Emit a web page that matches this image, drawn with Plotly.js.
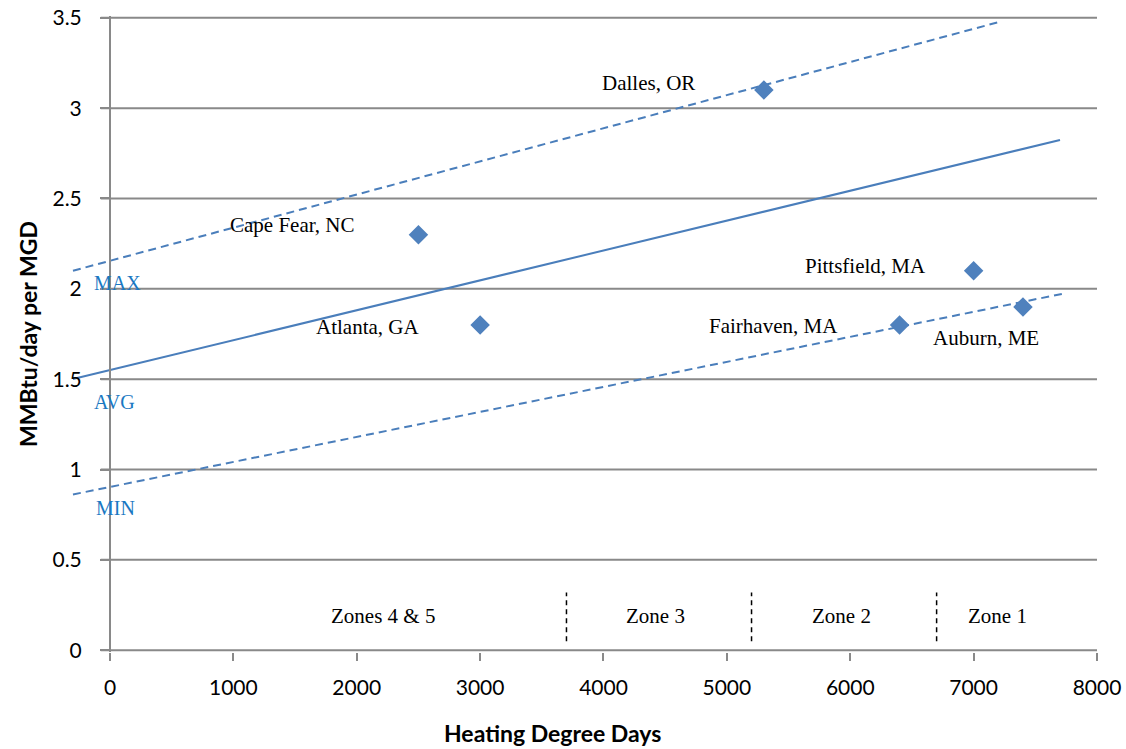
<!DOCTYPE html>
<html>
<head>
<meta charset="utf-8">
<script src="https://cdn.plot.ly/plotly-3.0.1.min.js"></script>
<style>html,body{margin:0;padding:0;background:#fff;}#chart{width:1126px;height:749px;}</style>
</head>
<body>
<div id="chart"></div>
<script>
// ---- Data ----
const siteNames = ["Cape Fear, NC", "Atlanta, GA", "Dalles, OR", "Pittsfield, MA", "Fairhaven, MA", "Auburn, ME"];
const siteHDD   = [2500, 3000, 5300, 7000, 6400, 7400];
const siteValue = [2.3, 1.8, 3.1, 2.1, 1.8, 1.9];
const siteLabelX = [1483, 2091, 4361, 6127, 5374, 7100];
const siteLabelY = [2.354, 1.789, 3.14, 2.127, 1.794, 1.728];

const maxLineX = [-300, 7213];
const maxLineY = [2.100, 3.478];
const avgLineX = [-300, 7700];
const avgLineY = [1.501, 2.824];
const minLineX = [-300, 7724];
const minLineY = [0.862, 1.973];

const bandNames  = ["MAX", "AVG", "MIN"];
const bandLabelX = [-142, -142, -130];
const bandLabelY = [2.034, 1.373, 0.786];

const zoneBounds = [3700, 5200, 6700];
const zoneBoundY = [0.05, 0.32];
const zoneNames  = ["Zones 4 & 5", "Zone 3", "Zone 2", "Zone 1"];
const zoneLabelX = [2213, 4425, 5930, 7197];
const zoneLabelY = 0.19;

const xTicks = [0, 1000, 2000, 3000, 4000, 5000, 6000, 7000, 8000];
const yTicks = [0, 0.5, 1, 1.5, 2, 2.5, 3, 3.5];
const yTickText = ["0", "0.5", "1", "1.5", "2", "2.5", "3", "3.5"];

// ---- Styles ----
const lineColor = "#4a7ebb";
const gridColor = "#898989";
const serif = "Liberation Serif, Times New Roman, serif";
const sans = "Lato, Calibri, sans-serif";

const traces = [
  {x: maxLineX, y: maxLineY, mode: "lines", line: {color: lineColor, width: 2, dash: "8px,5px"}, hoverinfo: "skip"},
  {x: avgLineX, y: avgLineY, mode: "lines", line: {color: lineColor, width: 2}, hoverinfo: "skip"},
  {x: minLineX, y: minLineY, mode: "lines", line: {color: lineColor, width: 2, dash: "8px,5px"}, hoverinfo: "skip"},
  {x: siteHDD, y: siteValue, mode: "markers", text: siteNames,
   marker: {symbol: "diamond", size: 15, color: "#4f81bd", line: {width: 0}}}
];

const shapes = [];
yTicks.forEach(v => {
  shapes.push({type: "line", xref: "x", yref: "y", x0: -75, x1: 8000, y0: v, y1: v,
               line: {color: gridColor, width: 2}, layer: "below"});
});
zoneBounds.forEach(b => {
  shapes.push({type: "line", xref: "x", yref: "y", x0: b, x1: b, y0: zoneBoundY[0], y1: zoneBoundY[1],
               line: {color: "#000", width: 1.5, dash: "5px,4px"}});
});

const annotations = [];
siteNames.forEach((n, i) => annotations.push({x: siteLabelX[i], y: siteLabelY[i], xref: "x", yref: "y",
  text: n, showarrow: false, font: {family: serif, size: 21, color: "#000"}}));
bandNames.forEach((n, i) => annotations.push({x: bandLabelX[i], y: bandLabelY[i], xref: "x", yref: "y",
  text: n, xanchor: "left", showarrow: false, font: {family: serif, size: 20, color: "#1a78c2"}}));
zoneNames.forEach((n, i) => annotations.push({x: zoneLabelX[i], y: zoneLabelY, xref: "x", yref: "y",
  text: n, showarrow: false, font: {family: serif, size: 21, color: "#000"}}));
annotations.push({xref: "paper", yref: "paper", x: 0.4703, y: -0.1274, xanchor: "center", yanchor: "middle",
  text: "<b>Heating Degree Days</b>", showarrow: false, font: {family: sans, size: 23, color: "#000"}});
annotations.push({xref: "paper", yref: "paper", x: -0.0409, y: 0.5, xanchor: "center", yanchor: "middle", textangle: -90,
  text: "<b>MMBtu/day per MGD</b>", showarrow: false, font: {family: sans, size: 23, color: "#000"}});

const layout = {
  width: 1126, height: 749,
  margin: {l: 70, r: 29, t: 16, b: 97},
  paper_bgcolor: "#fff", plot_bgcolor: "#fff",
  showlegend: false,
  xaxis: {range: [-324, 8000], showgrid: false, zeroline: false, showline: false,
          tickvals: xTicks, ticks: "outside", ticklen: 8, tickwidth: 2, tickcolor: gridColor,
          tickfont: {family: sans, size: 21, color: "#000"}, ticklabelstandoff: 9, fixedrange: true},
  yaxis: {range: [-0.01, 3.51], showgrid: false, zeroline: false, anchor: "free", position: 40/1027,
          showline: true, linecolor: gridColor, linewidth: 2,
          tickvals: yTicks, ticktext: yTickText, ticks: "outside", ticklen: 9, tickwidth: 2, tickcolor: gridColor,
          tickfont: {family: sans, size: 21, color: "#000"}, ticklabelstandoff: 14, fixedrange: true},
  shapes: shapes,
  annotations: annotations
};

Plotly.newPlot("chart", traces, layout, {staticPlot: true, displayModeBar: false});
</script>
</body>
</html>
